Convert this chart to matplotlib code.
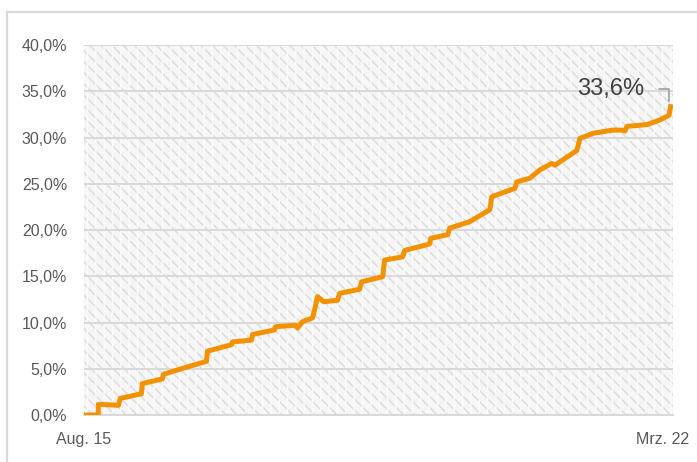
import matplotlib
matplotlib.use("Agg")
import matplotlib.pyplot as plt
from matplotlib.patches import Rectangle
from matplotlib.lines import Line2D
from matplotlib.ticker import FuncFormatter, MultipleLocator

plt.rcParams['font.family'] = ['Liberation Sans', 'DejaVu Sans']
plt.rcParams['hatch.linewidth'] = 1.1

# months since Aug. 15 and cumulative share in percent
months = [0, 1.95, 1.95, 3.46, 4.69, 4.96, 7.83, 7.96, 10.70, 10.83, 13.70,
          16.71, 16.84, 20.12, 20.26, 22.86, 22.99, 26.0, 26.13, 28.87, 29.14,
          29.82, 31.19, 31.46, 31.87, 32.69, 34.60, 34.88, 37.61, 37.88, 40.75,
          41.02, 43.48, 43.76, 46.76, 47.17, 47.31, 49.63, 49.90, 52.64, 55.37,
          55.64, 58.78, 59.06, 60.83, 62.20, 63.84, 64.25, 67.25, 67.66, 69.44,
          72.17, 73.40, 73.81, 74.09, 76.82, 78.59, 79.82, 80.10]
share = [0, 0, 1.15, 1.1, 1.05, 1.8, 2.3, 3.4, 3.9, 4.4, 5.1,
         5.8, 6.9, 7.6, 7.9, 8.1, 8.7, 9.2, 9.55, 9.7, 9.4,
         10.1, 10.5, 11.35, 12.8, 12.25, 12.4, 13.15, 13.6, 14.4, 14.95,
         16.75, 17.1, 17.8, 18.4, 18.5, 19.1, 19.5, 20.2, 20.9, 22.2,
         23.6, 24.5, 25.2, 25.6, 26.5, 27.2, 27.0, 28.6, 29.9, 30.45,
         30.8, 30.8, 30.7, 31.2, 31.4, 31.9, 32.4, 33.6]

tick_pos = [0, 79]
tick_labels = ['Aug. 15', 'Mrz. 22']
last_label = '33,6%'

fig = plt.figure(figsize=(6.97, 4.62), dpi=100)
ax = fig.add_axes([0.1205, 0.1017, 0.8451, 0.8009])

# hatched plot area: grey diagonals, white vertical stripes on top
ax.set_facecolor('#f6f6f6')
ax.add_patch(Rectangle((0, 0), 1, 1, transform=ax.transAxes, facecolor='none',
                       edgecolor='#dddddd', hatch='\\\\\\', lw=0, zorder=0))
ax.add_patch(Rectangle((0, 0), 1, 1, transform=ax.transAxes, facecolor='none',
                       edgecolor='#fbfbfb', hatch='||', lw=0, zorder=0))

ax.plot(months, share, color='#F39200', lw=3.6, solid_joinstyle='round',
        solid_capstyle='butt', zorder=3)

ax.set_xlim(0, 80.37)
ax.set_ylim(0, 40)
ax.yaxis.set_major_locator(MultipleLocator(5))
ax.yaxis.set_major_formatter(FuncFormatter(lambda v, p: f'{v:.1f}%'.replace('.', ',')))
ax.set_xticks(tick_pos)
ax.set_xticklabels(tick_labels)
ax.grid(axis='y', color='#d9d9d9', lw=1.4, zorder=1)
ax.set_axisbelow(True)
for s in ['top', 'right', 'left']:
    ax.spines[s].set_visible(False)
ax.spines['bottom'].set_color('#d9d9d9')
ax.spines['bottom'].set_linewidth(1.5)
ax.tick_params(length=0, labelsize=11.5, labelcolor='#595959')
ax.tick_params(axis='y', pad=12)
ax.tick_params(axis='x', pad=12)

ax.annotate(last_label, xy=(months[-1] - 0.25, share[-1] + 0.3),
            xytext=(76.5, 35.2), ha='right', va='center', fontsize=17,
            color='#404040',
            arrowprops=dict(arrowstyle='-', color='#a6a6a6', lw=1.3,
                            connectionstyle='angle,angleA=0,angleB=90,rad=0',
                            shrinkA=8, shrinkB=0))

# outer frame (only left and top visible)
fig.add_artist(Line2D([0.0105, 0.0105], [0, 0.974], transform=fig.transFigure,
                      color='#d9d9d9', lw=1.6))
fig.add_artist(Line2D([0.0105, 1.0], [0.974, 0.974], transform=fig.transFigure,
                      color='#d9d9d9', lw=1.6))

fig.savefig('out.png', dpi=100)
